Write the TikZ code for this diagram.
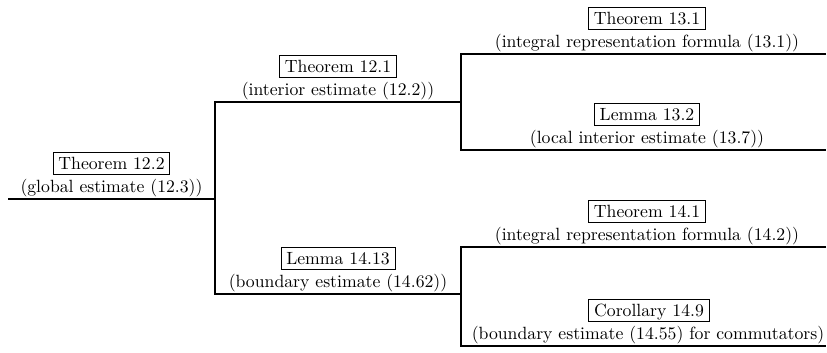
\documentclass[tikz,border=0pt]{standalone}
\tikzset{
  title/.style={draw, line width=0.5pt, inner xsep=3pt, inner ysep=2.9pt,
    text height=6.94pt, text depth=0pt, anchor=base},
  desc/.style={inner sep=0pt, anchor=base},
  branch/.style={line width=0.6pt, line join=miter},
}
\begin{document}
\begin{tikzpicture}[x=0.565pt, y=-0.565pt]
\useasboundingbox (0,0) rectangle (827,352);

% junction and end points of the tree
\coordinate (r0) at (8,199);
\coordinate (r1) at (215,199);
\coordinate (a0) at (215,102);
\coordinate (a1) at (461,102);
\coordinate (b0) at (215,294);
\coordinate (b1) at (461,294);
\coordinate (c0) at (461,54);   \coordinate (c1) at (826,54);
\coordinate (d0) at (461,150);  \coordinate (d1) at (826,150);
\coordinate (e0) at (461,247);  \coordinate (e1) at (826,247);
\coordinate (f0) at (461,346);  \coordinate (f1) at (826,346);

% branches
\draw[branch] (r0) -- (r1);
\draw[branch] (a1) -- (a0) -- (b0) -- (b1);
\draw[branch] (c1) -- (c0) -- (d0) -- (d1);
\draw[branch] (e1) -- (e0) -- (f0) -- (f1);

% labels: title box above its description, both over the branch line
\node[title] (t122) at (111.5,169.8) {Theorem 12.2};
\node[desc]  (g122) at (111.5,192.3) {(global estimate (12.3))};

\node[title] (t121) at (338,72.8) {Theorem 12.1};
\node[desc]  (g121) at (338,95.3) {(interior estimate (12.2))};

\node[title] (l1413) at (338,264.8) {Lemma 14.13};
\node[desc]  (g1413) at (338,287.3) {(boundary estimate (14.62))};

\node[title] (t131) at (647,24.8) {Theorem 13.1};
\node[desc]  (g131) at (647,47.3) {(integral representation formula (13.1))};

\node[title] (l132) at (647,120.8) {Lemma 13.2};
\node[desc]  (g132) at (647,143.3) {(local interior estimate (13.7))};

\node[title] (t141) at (647,217.8) {Theorem 14.1};
\node[desc]  (g141) at (647,240.3) {(integral representation formula (14.2))};

\node[title] (c149) at (649,316.8) {Corollary 14.9};
\node[desc]  (g149) at (648,339.3) {(boundary estimate (14.55) for commutators)};
\end{tikzpicture}
\end{document}
